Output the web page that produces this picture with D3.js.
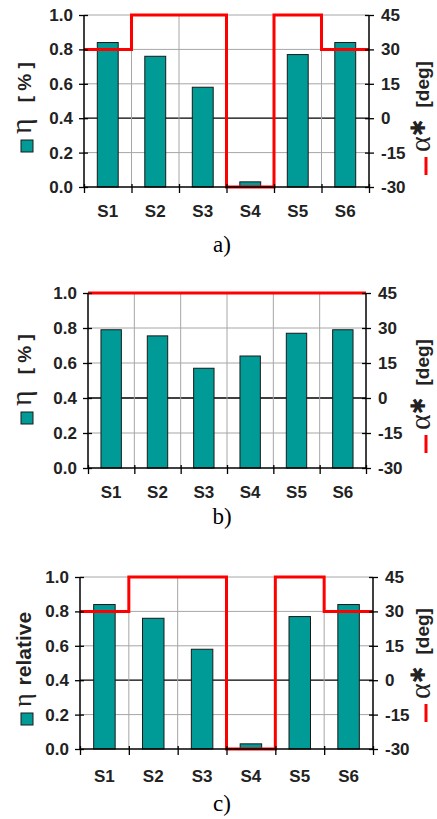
<!DOCTYPE html>
<html>
<head>
<meta charset="utf-8">
<script src="https://cdn.jsdelivr.net/npm/d3@7"></script>
<style>
  body { margin: 0; background: #fff; }
  svg { display: block; }
</style>
</head>
<body>
<svg width="437" height="819"></svg>
<script>
const categories = ['S1', 'S2', 'S3', 'S4', 'S5', 'S6'];
const etaA = [0.84, 0.76, 0.58, 0.03, 0.77, 0.84];
const alphaA = [30, 45, 45, -30, 45, 30];
const etaB = [0.79, 0.755, 0.57, 0.64, 0.77, 0.79];
const alphaB = [45, 45, 45, 45, 45, 45];
const etaC = [0.84, 0.76, 0.58, 0.03, 0.77, 0.84];
const alphaC = [30, 45, 45, -30, 45, 30];
const etaTicks = [0, 0.2, 0.4, 0.6, 0.8, 1.0];
const alphaTicks = [-30, -15, 0, 15, 30, 45];

const svg = d3.select('svg');
const teal = '#009b96';
const red = '#ff0000';
const sans = 'Liberation Sans, Arial, sans-serif';
const serif = 'Liberation Serif, Times New Roman, serif';

const panels = [
    { eta: etaA, alpha: alphaA, caption: 'a)', left: 84, right: 369, top: 15, bottom: 187,
      catY: 217, capY: 252, leftLabel: '[ % ]', sqY: 140, dashY: 175 },
    { eta: etaB, alpha: alphaB, caption: 'b)', left: 88, right: 366, top: 293, bottom: 468,
      catY: 498, capY: 524, leftLabel: '[ % ]', sqY: 412, dashY: 453 },
    { eta: etaC, alpha: alphaC, caption: 'c)', left: 80, right: 373, top: 577, bottom: 749,
      catY: 782, capY: 811, leftLabel: 'relative', sqY: 713, dashY: 722 }
];

const drawPanel = (p) => {
    const g = svg.append('g');

    const x = d3.scaleBand().domain(categories).range([p.left, p.right]);
    const xBar = d3.scaleBand().domain(categories).range([p.left, p.right])
        .paddingInner(0.56).paddingOuter(0.28);
    const xEdge = d3.scaleLinear().domain([0, categories.length]).range([p.left, p.right]);
    const y = d3.scaleLinear().domain([0, 1]).range([p.bottom, p.top]);
    const y2 = d3.scaleLinear().domain([-30, 45]).range([p.bottom, p.top]);

    // grid
    g.selectAll('.hgrid').data(etaTicks.slice(1)).enter().append('line')
        .attr('x1', p.left).attr('x2', p.right)
        .attr('y1', d => y(d)).attr('y2', d => y(d))
        .attr('stroke', d => Math.abs(d - 0.4) < 1e-9 ? '#000' : '#a6a6a6')
        .attr('stroke-width', d => Math.abs(d - 0.4) < 1e-9 ? 1.3 : 1);
    g.selectAll('.vgrid').data(d3.range(1, categories.length)).enter().append('line')
        .attr('x1', d => xEdge(d)).attr('x2', d => xEdge(d))
        .attr('y1', p.top).attr('y2', p.bottom)
        .attr('stroke', '#a6a6a6').attr('stroke-width', 1);

    // bars
    g.selectAll('rect.bar').data(p.eta).enter().append('rect')
        .attr('x', (d, i) => xBar(categories[i]))
        .attr('width', xBar.bandwidth())
        .attr('y', d => y(d))
        .attr('height', d => p.bottom - y(d))
        .attr('fill', teal).attr('stroke', '#1a1a1a').attr('stroke-width', 1);

    // step line
    const pts = p.alpha.map((v, i) => [xEdge(i), y2(v)]);
    pts.push([xEdge(categories.length), y2(p.alpha[p.alpha.length - 1])]);
    g.append('path')
        .attr('d', d3.line().curve(d3.curveStepAfter)(pts))
        .attr('fill', 'none').attr('stroke', red).attr('stroke-width', 3);

    // left axis
    const ax = g.append('g').attr('transform', `translate(${p.left},0)`)
        .call(d3.axisLeft(y).tickValues(etaTicks).tickFormat(d3.format('.1f')).tickSize(5).tickPadding(6));
    ax.selectAll('.tick line').attr('x1', 4);
    // right axis
    const ax2 = g.append('g').attr('transform', `translate(${p.right},0)`)
        .call(d3.axisRight(y2).tickValues(alphaTicks).tickFormat(d => String(d)).tickSize(5).tickPadding(7));
    ax2.selectAll('.tick line').attr('x1', -4);
    // bottom axis with ticks at category edges
    const ax3 = g.append('g').attr('transform', `translate(0,${p.bottom})`)
        .call(d3.axisBottom(xEdge).tickValues(d3.range(0, categories.length + 1)).tickFormat('').tickSize(6));
    ax3.selectAll('.tick line').attr('y1', -3);

    [ax, ax2, ax3].forEach(a => {
        a.select('.domain').attr('stroke', '#000').attr('stroke-width', 1.5);
        a.selectAll('.tick line').attr('stroke', '#000').attr('stroke-width', 1.3);
        a.selectAll('text').attr('font-family', sans).attr('font-size', 17)
            .attr('font-weight', 'bold').attr('fill', '#222');
    });
    ax.select('.domain').attr('d', `M0,${p.top}V${p.bottom}`);
    ax2.select('.domain').attr('d', `M0,${p.top}V${p.bottom}`);
    ax3.select('.domain').attr('d', `M${p.left},0H${p.right}`);

    // category labels
    g.selectAll('.cat').data(categories).enter().append('text')
        .attr('x', d => x(d) + x.bandwidth() / 2)
        .attr('y', p.catY)
        .attr('text-anchor', 'middle')
        .attr('font-family', sans).attr('font-size', 17).attr('font-weight', 'bold')
        .attr('fill', '#222')
        .text(d => d);

    // caption
    g.append('text')
        .attr('x', 222).attr('y', p.capY)
        .attr('text-anchor', 'middle')
        .attr('font-family', serif).attr('font-size', 23)
        .text(p.caption);

    // left legend / axis title
    g.append('rect')
        .attr('x', 21).attr('y', p.sqY).attr('width', 12).attr('height', 12)
        .attr('fill', teal).attr('stroke', '#1a1a1a').attr('stroke-width', 1);
    const isRel = p.leftLabel === 'relative';
    const lt = g.append('text')
        .attr('transform', `translate(31,${p.sqY - 6}) rotate(-90)`)
        .attr('fill', '#222');
    lt.append('tspan').attr('font-family', serif).attr('font-size', isRel ? 26 : 30).text('η');
    lt.append('tspan').attr('font-family', sans).attr('font-size', isRel ? 21 : 19).attr('font-weight', 'bold')
        .attr('dx', isRel ? 8 : 16).text(p.leftLabel);

    // right legend / axis title
    g.append('line')
        .attr('x1', 426).attr('x2', 426)
        .attr('y1', p.dashY - 18).attr('y2', p.dashY)
        .attr('stroke', red).attr('stroke-width', 3);
    const rt = g.append('text')
        .attr('transform', `translate(430,${p.dashY - 23}) rotate(-90)`)
        .attr('fill', '#222');
    rt.append('tspan').attr('font-family', serif).attr('font-size', 30).text('α');
    rt.append('tspan').attr('font-family', 'DejaVu Sans, sans-serif').attr('font-size', 20).attr('font-weight', 'bold')
        .attr('dy', -5).text('✱');
    rt.append('tspan').attr('font-family', sans).attr('font-size', 19).attr('font-weight', 'bold')
        .attr('dx', 12).attr('dy', 4).text('[deg]');
};

panels.forEach(drawPanel);
</script>
</body>
</html>
